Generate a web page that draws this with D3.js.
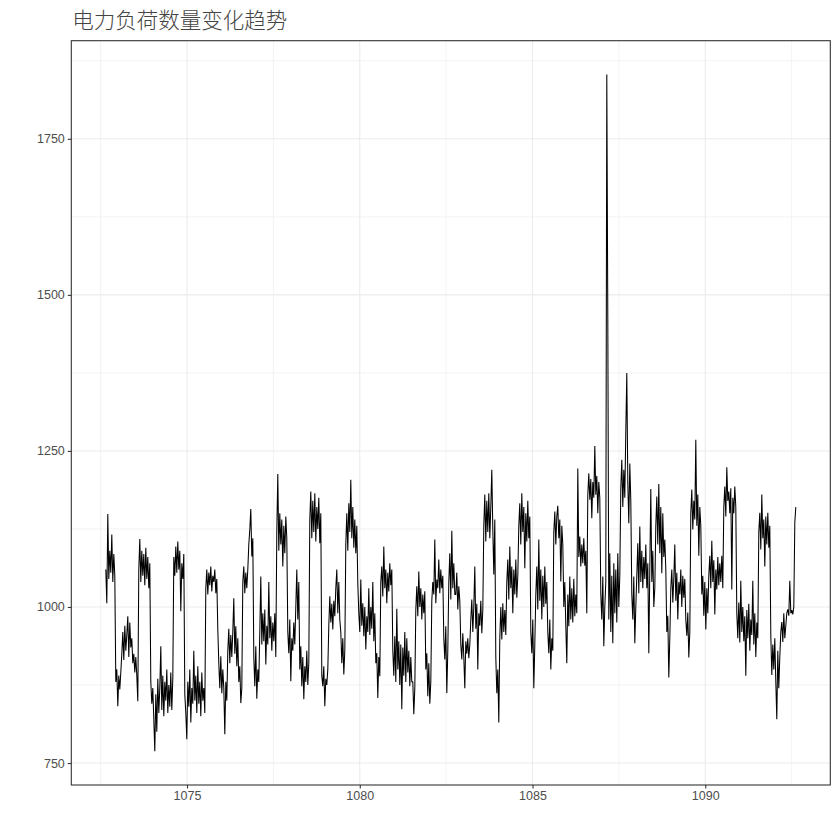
<!DOCTYPE html>
<html>
<head>
<meta charset="utf-8">
<script src="https://cdn.jsdelivr.net/npm/d3@7/dist/d3.min.js"></script>
<style>
html,body{margin:0;padding:0;background:#fff;}
</style>
</head>
<body>
<svg id="chart" width="840" height="840"></svg>
<script>
const title = "电力负荷数量变化趋势";
const xStart = 1072.65;
const xEnd = 1092.62;
const xMajorTicks = [1075, 1080, 1085, 1090];
const xMinorTicks = [1072.5, 1077.5, 1082.5, 1087.5, 1092.5];
const yMajorTicks = [750, 1000, 1250, 1500, 1750];
const yMinorTicks = [875, 1125, 1375, 1625, 1875];
const loadValues = [
1060,1006,1149,1045,1090,1055,1116,1040,1085,1050,
880,900,841,890,868,895,
925,960,915,970,930,955,985,920,975,935,950,910,925,895,920,890,849,
1060,1109,1040,1090,1050,1085,1035,1095,1045,1080,1030,1070,
880,845,870,820,769,860,800,885,830,870,937,835,890,825,880,850,900,830,875,840,895,835,885,
1080,1050,1097,1055,1105,1060,1090,993,1070,1045,1085,
860,830,788,880,840,900,815,870,845,930,850,890,830,905,845,880,825,895,850,870,830,
1030,1060,1020,1055,1035,1065,1025,1050,1040,1060,1022,1045,964,
910,870,921,862,900,870,796,880,850,
930,965,910,955,920,960,1014,925,969,905,950,
880,905,846,870,
1040,1065,1022,1055,1030,1060,
1100,1124,1157,1081,1110,
920,873,937,853,900,880,
960,1049,940,990,945,996,908,970,940,1040,950,985,930,975,945,990,920,
1120,1213,1090,1150,1100,1140,1065,1130,1086,1145,1110,
960,926,980,881,950,930,975,940,
1000,1060,980,1040,
900,937,873,920,852,905,880,930,875,910,
1140,1185,1110,1170,1120,1182,1105,1160,1125,1175,1102,1150,
890,873,905,841,885,875,900,
970,1017,975,1005,964,1010,985,1030,1060,990,1040,980,
960,910,950,892,930,
1100,1150,1090,1166,1120,1204,1110,1160,1095,1140,1086,1130,1038,
990,960,1044,970,1006,953,1000,932,985,960,1030,955,1000,965,1040,945,990,
910,926,854,920,889,
1040,1065,1017,1097,1030,1060,1006,1055,1025,1070,1035,1060,
930,890,953,880,997,900,945,875,940,836,935,890,960,880,950,895,930,873,920,880,
880,828,870,
995,1033,985,1057,1000,1030,980,1020,990,1025,
900,926,857,910,845,880,
1010,1040,1020,1108,1006,1044,1030,1076,1022,1060,1030,1050,
950,916,969,862,930,
1040,1086,1012,1122,1030,1070,1020,
1020,1055,996,1033,1010,
940,916,958,920,870,945,925,950,918,940,
980,1012,960,1000,1065,965,1005,900,990,970,1010,958,995,
1130,1180,1105,1170,1120,1182,1110,1160,1220,1125,1052,1140,
920,862,900,815,
950,1000,948,1006,960,995,955,
1040,1076,1012,1097,1030,1065,990,1060,1020,1076,1015,1050,
1130,1166,1100,1182,1120,1160,1062,1150,1105,1170,1110,1145,
960,926,980,870,940,
1020,1065,996,1108,1010,1060,980,1050,1000,1065,1005,1040,
960,926,980,900,950,930,
1120,1153,1100,1145,1162,1110,1140,1041,1130,1100,
1000,1040,970,910,1020,969,1049,980,1030,975,1045,985,1020,990,
1222,1080,1113,1065,1100,1070,1110,1066,1090,990,
1180,1214,1172,1205,1142,1200,1175,1258,1180,1210,1150,1200,1175,
1020,980,1049,937,1000,1040,
1853,1461,
980,1086,960,1050,942,1070,990,1060,975,1086,1000,1050,
1190,1236,1160,1220,1175,1281,1375,1200,1134,1230,1170,
1020,980,1049,942,1000,
1050,1102,1022,1129,1040,1090,1030,1080,1045,1100,1030,1070,926,1060,1189,1040,1090,
1000,1030,
1130,1177,1100,1197,1086,1160,1054,1150,
1080,1108,1060,
960,986,887,950,
1030,1060,1007,1045,1100,1010,1055,980,1040,1020,1060,1000,1050,1015,1045,
980,954,991,919,960,
1150,1188,1124,1170,1140,1268,1130,1180,1082,1160,1130,
1020,1050,986,1040,964,1030,990,
1050,1082,1030,1106,1040,1075,988,1060,1028,1080,1035,1070,1040,1082,1030,
1160,1193,1145,1224,1170,1185,1150,1190,1028,1175,1150,1193,1160,
990,950,1007,943,1042,960,1000,945,985,890,995,950,1005,930,980,955,1042,940,990,920,975,950,
1120,1151,1092,1180,1110,1140,1065,1145,1100,1151,1095,1130,
955,891,940,900,950,880,820,930,870,920,
960,976,944,990,950,970,
990,996,986,1042,990,995,988,1000,
1135,1160
];

const xStep = (xEnd - xStart) / (loadValues.length - 1);
const data = loadValues.map((v, i) => ({x: xStart + i * xStep, y: v}));

const svg = d3.select("#chart");
const pLeft = 71.3, pRight = 830.3, pTop = 40.7, pBottom = 785;

function expand(ext){ const d = ext[1]-ext[0]; return [ext[0]-0.05*d, ext[1]+0.05*d]; }
const x = d3.scaleLinear().domain(expand(d3.extent(data, d => d.x))).range([pLeft, pRight]);
const y = d3.scaleLinear().domain(expand(d3.extent(data, d => d.y))).range([pBottom, pTop]);

svg.append("rect").attr("x", pLeft).attr("y", pTop).attr("width", pRight-pLeft).attr("height", pBottom-pTop).attr("fill", "#fff");

const grid = svg.append("g");
grid.selectAll(".ymin").data(yMinorTicks.filter(t => y(t) > pTop && y(t) < pBottom)).join("line")
  .attr("x1", pLeft).attr("x2", pRight).attr("y1", d => y(d)).attr("y2", d => y(d))
  .attr("stroke", "#EBEBEB").attr("stroke-width", 0.6);
grid.selectAll(".xmin").data(xMinorTicks.filter(t => x(t) > pLeft && x(t) < pRight)).join("line")
  .attr("y1", pTop).attr("y2", pBottom).attr("x1", d => x(d)).attr("x2", d => x(d))
  .attr("stroke", "#EBEBEB").attr("stroke-width", 0.6);
grid.selectAll(".ymaj").data(yMajorTicks).join("line")
  .attr("x1", pLeft).attr("x2", pRight).attr("y1", d => y(d)).attr("y2", d => y(d))
  .attr("stroke", "#EBEBEB").attr("stroke-width", 1.1);
grid.selectAll(".xmaj").data(xMajorTicks).join("line")
  .attr("y1", pTop).attr("y2", pBottom).attr("x1", d => x(d)).attr("x2", d => x(d))
  .attr("stroke", "#EBEBEB").attr("stroke-width", 1.1);

const line = d3.line().x(d => x(d.x)).y(d => y(d.y));
svg.append("path").datum(data).attr("d", line)
  .attr("fill", "none").attr("stroke", "#000").attr("stroke-width", 1.05).attr("stroke-linejoin", "bevel");

svg.append("rect").attr("x", pLeft).attr("y", pTop).attr("width", pRight-pLeft).attr("height", pBottom-pTop)
  .attr("fill", "none").attr("stroke", "#333333").attr("stroke-width", 1.1);

const xAxis = d3.axisBottom(x).tickValues(xMajorTicks).tickFormat(d3.format("d")).tickSize(3.5).tickPadding(3);
const gx = svg.append("g").attr("transform", `translate(0,${pBottom})`).call(xAxis);
gx.select(".domain").remove();
gx.selectAll(".tick line").attr("stroke", "#333333").attr("stroke-width", 1.1);
gx.selectAll(".tick text").attr("fill", "#4D4D4D").attr("font-size", "12.5px").attr("font-family", "Liberation Sans, Arial, sans-serif");

const yAxis = d3.axisLeft(y).tickValues(yMajorTicks).tickFormat(d3.format("d")).tickSize(3.5).tickPadding(3);
const gy = svg.append("g").attr("transform", `translate(${pLeft},0)`).call(yAxis);
gy.select(".domain").remove();
gy.selectAll(".tick line").attr("stroke", "#333333").attr("stroke-width", 1.1);
gy.selectAll(".tick text").attr("fill", "#4D4D4D").attr("font-size", "12.5px").attr("font-family", "Liberation Sans, Arial, sans-serif");

svg.append("text").attr("x", pLeft + 1).attr("y", 28).text(title)
  .attr("font-family", "Noto Sans CJK SC, sans-serif").attr("font-weight", 300)
  .attr("font-size", "21.5px").attr("fill", "#444444");
</script>
</body>
</html>
